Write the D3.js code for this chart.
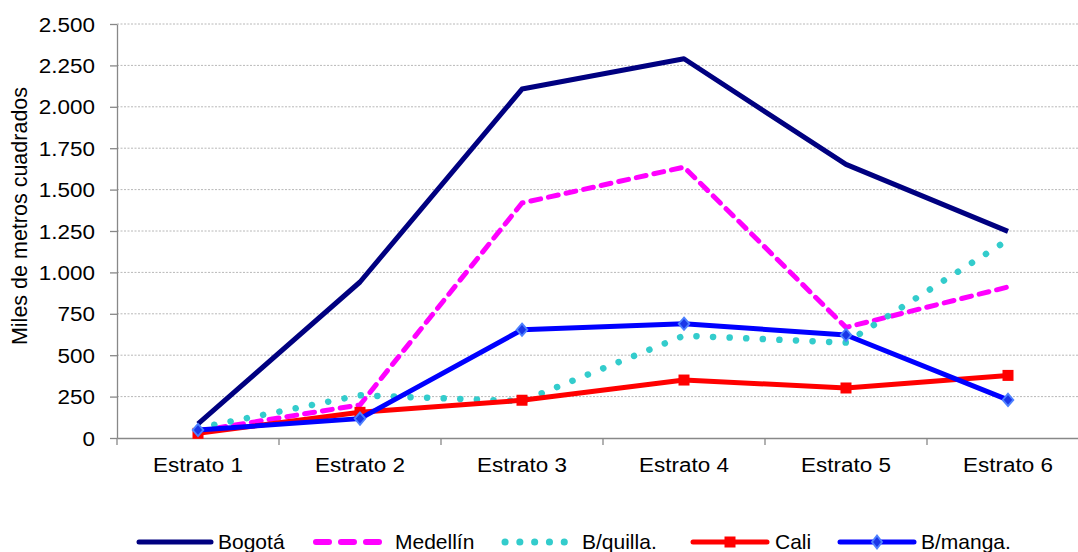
<!DOCTYPE html>
<html>
<head>
<meta charset="utf-8">
<script src="https://cdn.jsdelivr.net/npm/d3@7"></script>
<style>
  html, body { margin: 0; padding: 0; background: #fff; }
  svg { display: block; font-family: "Liberation Sans", Arial, sans-serif; }
</style>
</head>
<body>
<svg id="chart" width="1078" height="552"></svg>
<script>
const categories = ["Estrato 1", "Estrato 2", "Estrato 3", "Estrato 4", "Estrato 5", "Estrato 6"];
const yTicks = [0, 250, 500, 750, 1000, 1250, 1500, 1750, 2000, 2250, 2500];
const seriesNames = ["Bogotá", "Medellín", "B/quilla.", "Cali", "B/manga."];
const bogota   = [85, 942, 2107, 2290, 1652, 1248];
const medellin = [42, 200, 1419, 1636, 668, 912];
const bquilla  = [60, 258, 222, 618, 576, 1196];
const cali     = [28, 155, 228, 350, 302, 378];
const bmanga   = [48, 117, 654, 690, 622, 230];

const svg = d3.select("#chart");
const x = d3.scaleBand().domain(categories).range([117, 1089]);
const y = d3.scaleLinear().domain([0, 2500]).range([438, 24]);

const fmt = v => d3.format(",")(v).replace(/,/g, ".");
const FONT = 21;

// gridlines
svg.append("g").selectAll("line").data(yTicks.filter(d => d > 0)).join("line")
  .attr("x1", 117).attr("x2", 1078)
  .attr("y1", d => y(d)).attr("y2", d => y(d))
  .attr("stroke", "#b8b8b8").attr("stroke-width", 1).attr("stroke-dasharray", "2,1.5");

// y axis
const yAxis = svg.append("g").attr("transform", "translate(117,0)")
  .call(d3.axisLeft(y).tickValues(yTicks).tickFormat("").tickSize(7).tickSizeOuter(0));
yAxis.select(".domain").attr("stroke", "#888").attr("stroke-width", 1.3);
yAxis.selectAll(".tick line").attr("stroke", "#888").attr("stroke-width", 1.3);
svg.append("g").selectAll("text").data(yTicks).join("text")
  .attr("transform", d => `translate(95,${y(d) + 7.5}) scale(1.07,1)`)
  .attr("text-anchor", "end").attr("font-size", FONT).attr("fill", "#000")
  .text(fmt);

// x axis
const xAxis = svg.append("g").attr("transform", "translate(0,438)")
  .call(d3.axisBottom(x).tickSize(0).tickSizeOuter(0).tickFormat(""));
xAxis.select(".domain").attr("stroke", "#888").attr("stroke-width", 1.3);
svg.append("g").selectAll("line").data(categories).join("line")
  .attr("x1", d => x(d)).attr("x2", d => x(d))
  .attr("y1", 438).attr("y2", 445).attr("stroke", "#888").attr("stroke-width", 1.3);
const cx = d => x(d) + x.bandwidth() / 2;
svg.append("g").selectAll("text").data(categories).join("text")
  .attr("transform", d => `translate(${cx(d)},472) scale(1.07,1)`)
  .attr("text-anchor", "middle").attr("font-size", FONT).attr("fill", "#000")
  .text(d => d);

// y title
svg.append("text")
  .attr("transform", "translate(27,216) rotate(-90)")
  .attr("text-anchor", "middle").attr("font-size", 21.5).attr("fill", "#000")
  .text("Miles de metros cuadrados");

const line = d3.line().x((d, i) => cx(categories[i])).y(d => y(d));

const styles = [
  { data: bogota, color: "#000080", width: 5, dash: null, cap: "butt", marker: null, ldash: null },
  { data: medellin, color: "#ff00ff", width: 5, dash: "10,8", cap: "round", marker: null, ldash: "13,12" },
  { data: bquilla, color: "#33cccc", width: 6.5, dash: "0.1,16.5", cap: "round", marker: null, ldash: "0.1,14.7" },
  { data: cali, color: "#ff0000", width: 5, dash: null, cap: "butt", marker: "square", ldash: null },
  { data: bmanga, color: "#0000ff", width: 5, dash: null, cap: "butt", marker: "diamond", ldash: null }
];

const diamond = d3.symbol(d3.symbolDiamond2, 80)();

styles.forEach(s => {
  svg.append("path").datum(s.data)
    .attr("d", line).attr("fill", "none")
    .attr("stroke", s.color).attr("stroke-width", s.width)
    .attr("stroke-linecap", s.cap).attr("stroke-linejoin", "round")
    .attr("stroke-dasharray", s.dash);
  if (s.marker === "square") {
    svg.append("g").selectAll("rect").data(s.data).join("rect")
      .attr("x", (d, i) => cx(categories[i]) - 5.5).attr("y", d => y(d) - 5.5)
      .attr("width", 11).attr("height", 11).attr("fill", s.color);
  } else if (s.marker === "diamond") {
    svg.append("g").selectAll("path").data(s.data).join("path")
      .attr("d", diamond)
      .attr("transform", (d, i) => `translate(${cx(categories[i])},${y(d)}) scale(0.95,1.1)`)
      .attr("fill", "#1a36e8").attr("stroke", "#4d80ff").attr("stroke-width", 1.8);
  }
});

// legend
const legendPos = [
  { x1: 139, x2: 211, tx: 218 },
  { x1: 316, x2: 388, tx: 395 },
  { x1: 505, x2: 578, tx: 582 },
  { x1: 693, x2: 767, tx: 775 },
  { x1: 840, x2: 914, tx: 921 }
];
const ly = 542;
styles.forEach((s, i) => {
  const p = legendPos[i];
  svg.append("line").attr("x1", p.x1).attr("x2", p.x2).attr("y1", ly).attr("y2", ly)
    .attr("stroke", s.color).attr("stroke-width", i === 2 ? 7 : (i === 1 ? 6 : 5))
    .attr("stroke-linecap", "round")
    .attr("stroke-dasharray", s.ldash);
  const mx = (p.x1 + p.x2) / 2;
  if (s.marker === "square") {
    svg.append("rect").attr("x", mx - 5.5).attr("y", ly - 5.5).attr("width", 11).attr("height", 11).attr("fill", s.color);
  } else if (s.marker === "diamond") {
    svg.append("path").attr("d", diamond)
      .attr("transform", `translate(${mx},${ly}) scale(0.9,1.15)`)
      .attr("fill", "#1a36e8").attr("stroke", "#4d80ff").attr("stroke-width", 1.8);
  }
  svg.append("text").attr("x", p.tx).attr("y", 549)
    .attr("font-size", FONT).attr("fill", "#000")
    .text(seriesNames[i]);
});
</script>
</body>
</html>
